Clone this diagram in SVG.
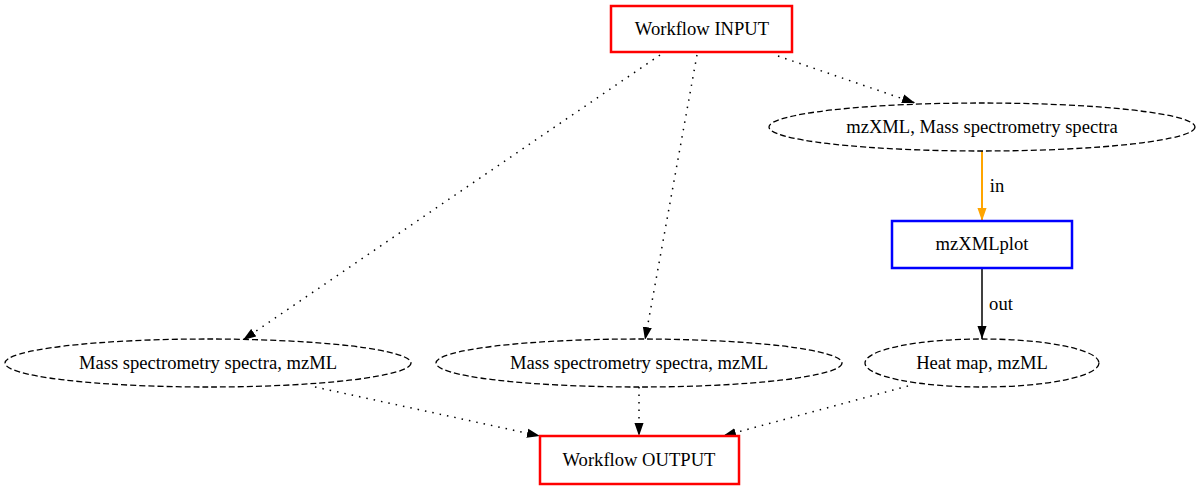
<svg xmlns="http://www.w3.org/2000/svg" width="1200" height="490" viewBox="0 0 1200 490">
<defs>
<marker id="ah" viewBox="0 0 10 7" refX="10" refY="3.5" markerWidth="13" markerHeight="10" markerUnits="userSpaceOnUse" orient="auto">
<path d="M0,0 L10,3.5 L0,7 Z" fill="#000"/>
</marker>
<marker id="ahO" viewBox="0 0 10 7" refX="10" refY="3.5" markerWidth="13" markerHeight="10" markerUnits="userSpaceOnUse" orient="auto">
<path d="M0,0 L10,3.5 L0,7 Z" fill="orange"/>
</marker>
<style>
text{font-family:"Liberation Serif","Times New Roman",serif;font-size:18.6px;fill:#000;text-anchor:middle}
.io{fill:#fff;stroke:#ff0000;stroke-width:2.5}
.tool{fill:#fff;stroke:#0000ff;stroke-width:2.5}
.data{fill:#fff;stroke:#000;stroke-width:1.3;stroke-dasharray:6,3}
.dot{fill:none;stroke:#000;stroke-width:1.5;stroke-dasharray:1.5,6}
.solid{fill:none;stroke:#000;stroke-width:1.5}
.orange{fill:none;stroke:orange;stroke-width:2}
</style>
</defs>
<rect width="1200" height="490" fill="#fff"/>
<g id="connectors">
<path class="dot" d="M660,55 L243,340" marker-end="url(#ah)"/>
<path class="dot" d="M697,55 L645,340" marker-end="url(#ah)"/>
<path class="dot" d="M778,56 L915,103" marker-end="url(#ah)"/>
<path class="orange" d="M982,151 L982,221" marker-end="url(#ahO)"/>
<text x="997" y="192">in</text>
<path class="solid" d="M982,268 L982,339" marker-end="url(#ah)"/>
<text x="1001" y="310">out</text>
<path class="dot" d="M315,387 L540,436" marker-end="url(#ah)"/>
<path class="dot" d="M639,387 L639,436" marker-end="url(#ah)"/>
<path class="dot" d="M908,386 L723,436" marker-end="url(#ah)"/>
</g>
<g id="input">
<rect class="io" x="611" y="6" width="181" height="46"/>
<text x="702" y="35">Workflow INPUT</text>
</g>
<g id="mzxml">
<ellipse class="data" cx="982" cy="127" rx="213" ry="24"/>
<text x="982" y="133">mzXML, Mass spectrometry spectra</text>
</g>
<g id="mzxmlplot">
<rect class="tool" x="892" y="221" width="180" height="47"/>
<text x="982" y="250">mzXMLplot</text>
</g>
<g id="massleft">
<ellipse class="data" cx="208" cy="363" rx="203" ry="24"/>
<text x="208" y="369">Mass spectrometry spectra, mzML</text>
</g>
<g id="massmid">
<ellipse class="data" cx="639" cy="363" rx="203" ry="24"/>
<text x="639" y="369">Mass spectrometry spectra, mzML</text>
</g>
<g id="heatmap">
<ellipse class="data" cx="982" cy="363" rx="117" ry="24"/>
<text x="982" y="369">Heat map, mzML</text>
</g>
<g id="output">
<rect class="io" x="540" y="436" width="199" height="48"/>
<text x="639" y="466">Workflow OUTPUT</text>
</g>
</svg>
